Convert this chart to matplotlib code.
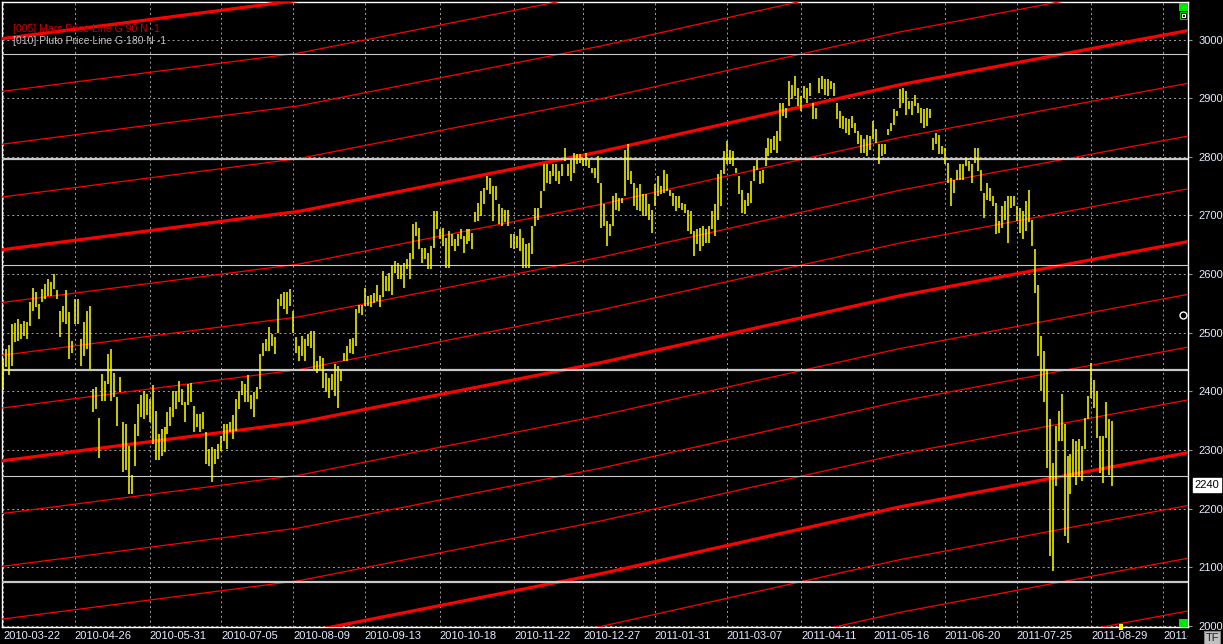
import matplotlib
matplotlib.use("Agg")
import matplotlib.pyplot as plt
from matplotlib.lines import Line2D
from matplotlib.patches import Rectangle
from matplotlib.transforms import Bbox
import numpy as np
import pandas as pd

W, H = 1223, 644
plt.rcParams["font.family"] = ["Liberation Sans", "DejaVu Sans"]

# daily sessions from 2010-03-22 (high / low)
highs = [
    2455, 2472, 2479, 2515, 2516, 2524, 2515, 2520, 2518, 2552, 2577, 2569, 2549, 2574, 2583, 2591, 2586, 2600,
    2572, 2537, 2546, 2572, 2535, 2486, 2557, 2557, 2489, 2518, 2537, 2546, 2404, 2407, 2354, 2430, 2418, 2464,
    2472, 2432, 2390, 2424, 2347, 2344, 2307, 2257, 2344, 2378, 2393, 2401, 2395, 2387, 2410, 2367, 2327, 2336,
    2339, 2364, 2373, 2401, 2401, 2418, 2404, 2381, 2412, 2415, 2375, 2361, 2361, 2364, 2330, 2302, 2305, 2302,
    2310, 2324, 2344, 2344, 2347, 2359, 2387, 2401, 2418, 2412, 2427, 2393, 2398, 2407, 2464, 2483, 2489, 2509,
    2498, 2492, 2557, 2566, 2569, 2569, 2574, 2537, 2492,
    2477, 2494, 2489, 2497, 2503, 2503, 2452, 2460, 2457, 2432, 2423, 2429, 2446, 2443, 2435, 2466, 2477, 2489,
    2491, 2540, 2548, 2548, 2577, 2562, 2565, 2568, 2582, 2565, 2605, 2597, 2602, 2616, 2622, 2619, 2616, 2619,
    2625, 2636, 2685, 2688, 2679, 2645, 2645, 2636, 2648, 2707, 2707, 2676, 2679, 2662, 2673, 2668, 2659, 2668,
    2676, 2665, 2676, 2676, 2670, 2705, 2722, 2741, 2747, 2767, 2764, 2750, 2750, 2719, 2713, 2710, 2710, 2668,
    2668, 2665, 2676, 2662, 2651, 2653, 2682, 2713, 2713, 2741, 2787, 2787, 2776, 2787, 2787, 2776, 2787, 2815,
    2787, 2795, 2807, 2804, 2804, 2798, 2807, 2795, 2781, 2781,
    2802, 2756, 2719, 2690, 2685, 2733, 2739, 2730, 2730, 2812, 2821, 2776, 2756, 2747, 2753, 2736, 2736, 2719,
    2710, 2753, 2767, 2750, 2778, 2770, 2744, 2739, 2733, 2733, 2722, 2719, 2710, 2707, 2673, 2676, 2679, 2682,
    2676, 2682, 2707, 2719, 2770, 2778, 2810, 2827, 2812, 2810, 2781, 2767, 2744, 2727, 2739, 2758, 2784, 2795,
    2776, 2778, 2815, 2832, 2830, 2835, 2844, 2892, 2892, 2884, 2929, 2923, 2937, 2918, 2903, 2920, 2918, 2926,
    2892, 2884, 2935, 2937, 2932, 2932, 2929, 2926, 2892, 2878, 2869, 2866, 2864, 2869, 2858, 2844, 2838, 2830,
    2838, 2835, 2861, 2847, 2821, 2821, 2821, 2847, 2858, 2881,
    2878, 2915, 2918, 2912, 2895, 2895, 2906, 2892, 2884, 2881, 2884, 2881, 2832, 2841, 2838, 2818, 2815, 2790,
    2764, 2761, 2778, 2787, 2787, 2798, 2793, 2787, 2815, 2815, 2778, 2739, 2756, 2747, 2733, 2722, 2690, 2716,
    2724, 2733, 2733, 2733, 2716, 2713, 2707, 2724, 2744, 2693, 2642, 2582, 2494, 2469, 2438, 2352, 2278, 2341,
    2366, 2395, 2344, 2290, 2293, 2318, 2315, 2318, 2307, 2355, 2392, 2449, 2420, 2401, 2324, 2324, 2381, 2352,
    2349,
]
lows = [
    2403, 2441, 2427, 2444, 2484, 2486, 2489, 2495, 2489, 2512, 2537, 2543, 2523, 2552, 2557, 2563, 2563, 2574,
    2557, 2492, 2518, 2515, 2455, 2466, 2515, 2515, 2444, 2461, 2472, 2438, 2364, 2370, 2286, 2384, 2384, 2412,
    2384, 2390, 2341, 2398, 2262, 2265, 2225, 2225, 2273, 2324, 2356, 2353, 2359, 2347, 2310, 2282, 2282, 2290,
    2296, 2327, 2341, 2356, 2370, 2381, 2376, 2347, 2376, 2381, 2330, 2339, 2330, 2336, 2276, 2273, 2245, 2276,
    2285, 2299, 2316, 2302, 2330, 2319, 2333, 2370, 2393, 2381, 2381, 2370, 2356, 2387, 2404, 2461, 2469, 2469,
    2478, 2464, 2500, 2546, 2540, 2532, 2546, 2500, 2466,
    2452, 2460, 2452, 2477, 2474, 2438, 2432, 2438, 2406, 2398, 2389, 2403, 2392, 2372, 2418, 2452, 2452, 2466,
    2463, 2477, 2534, 2531, 2545, 2545, 2543, 2551, 2554, 2543, 2560, 2571, 2571, 2565, 2602, 2591, 2591, 2577,
    2608, 2591, 2625, 2665, 2642, 2619, 2625, 2608, 2608, 2645, 2676, 2659, 2648, 2611, 2611, 2648, 2639, 2648,
    2659, 2636, 2651, 2656, 2642, 2688, 2690, 2699, 2719, 2744, 2736, 2690, 2727, 2685, 2682, 2688, 2682, 2645,
    2642, 2645, 2639, 2611, 2611, 2611, 2634, 2682, 2693, 2713, 2741, 2756, 2753, 2767, 2759, 2753, 2767, 2793,
    2767, 2759, 2773, 2787, 2790, 2784, 2784, 2781, 2773, 2764,
    2756, 2679, 2682, 2648, 2665, 2682, 2710, 2707, 2722, 2733, 2761, 2753, 2716, 2710, 2707, 2699, 2699, 2693,
    2670, 2716, 2733, 2736, 2739, 2741, 2733, 2716, 2707, 2713, 2710, 2704, 2673, 2668, 2631, 2651, 2639, 2648,
    2653, 2653, 2676, 2665, 2693, 2716, 2770, 2787, 2787, 2784, 2773, 2736, 2704, 2702, 2716, 2722, 2758, 2778,
    2753, 2756, 2784, 2801, 2807, 2812, 2807, 2827, 2869, 2866, 2886, 2898, 2903, 2886, 2878, 2901, 2892, 2903,
    2864, 2864, 2909, 2915, 2906, 2903, 2915, 2903, 2864, 2849, 2847, 2841, 2838, 2849, 2841, 2821, 2807, 2807,
    2801, 2812, 2830, 2824, 2787, 2801, 2804, 2838, 2844, 2855,
    2869, 2884, 2892, 2872, 2881, 2872, 2886, 2875, 2858, 2849, 2852, 2866, 2812, 2821, 2804, 2804, 2787, 2756,
    2716, 2739, 2761, 2761, 2761, 2784, 2776, 2756, 2790, 2776, 2741, 2696, 2727, 2724, 2716, 2668, 2670, 2679,
    2693, 2653, 2713, 2716, 2690, 2670, 2659, 2673, 2688, 2648, 2568, 2460, 2401, 2381, 2270, 2119, 2094, 2239,
    2315, 2315, 2153, 2142, 2224, 2253, 2241, 2253, 2247, 2301, 2352, 2389, 2372, 2321, 2261, 2244, 2321, 2258,
    2239,
]
last_price = 2240

holidays = ["2010-04-02", "2010-05-31", "2010-07-05", "2010-09-06", "2010-11-25", "2010-12-24",
            "2011-01-17", "2011-02-21", "2011-04-22", "2011-05-30", "2011-07-04", "2011-09-05"]
tick_dates = ["2010-03-22", "2010-04-26", "2010-05-31", "2010-07-05", "2010-08-09", "2010-09-13",
              "2010-10-18", "2010-11-22", "2010-12-27", "2011-01-31", "2011-03-07", "2011-04-11",
              "2011-05-16", "2011-06-20", "2011-07-25", "2011-08-29", "2011-10-03"]

# [005] Mars price line, G 90: base harmonic read at a few session indices
mars_idx = [-1, 99, 200, 300, 377, 397]
mars_base = [2281, 2347, 2449, 2563, 2637, 2656]
mars_step = 90
# [010] Pluto price line, G 180 (flat over this window)
pluto_base = 2075.5
pluto_step = 180

price_ticks = list(range(2000, 3001, 100))

sessions = pd.date_range("2010-03-22", "2011-12-30", freq=pd.offsets.CustomBusinessDay(holidays=holidays))
tick_pos = sessions.searchsorted(pd.to_datetime(tick_dates))
x = np.arange(len(highs))

fig = plt.figure(figsize=(W / 100, H / 100), dpi=100, facecolor="black")
ax = fig.add_axes([2 / W, 17 / H, 1186 / W, 625 / H], facecolor="black")
ax.set_xlim(-0.35, 396.3)
ax.set_ylim(1998, 3064)

# harmonics
for k in range(-8, 10):
    thick = k % 4 == 0
    ax.plot(mars_idx, np.array(mars_base) + k * mars_step, color="#ff0000",
            lw=2.3 if thick else 0.9, zorder=3, solid_capstyle="butt")
for k in range(6):
    ax.axhline(pluto_base + k * pluto_step, color="#c8c8c8", lw=1.6 if k % 2 == 0 else 0.8, zorder=4)

ax.vlines(x, lows, highs, colors="#ffff00", linewidth=1.1, zorder=6)

ax.set_axisbelow(True)
ax.set_xticks(tick_pos)
ax.set_yticks(price_ticks)
ax.grid(True, color="#a0a0a0", linestyle=(0, (2, 3)), linewidth=0.7)
for s in ax.spines.values():
    s.set_color("white")
    s.set_linewidth(1.0)
ax.yaxis.tick_right()
ax.tick_params(axis="y", direction="out", length=3, width=0.8, color="#909090", pad=4.5,
               labelsize=8, labelcolor="#e6ecff")
ax.tick_params(axis="x", length=0, labelbottom=False)

lab_clip = Bbox.from_extents(0, 0, 1188, H)
for pos, d in zip(tick_pos, tick_dates):
    t = ax.text(pos, -0.007, d, transform=ax.get_xaxis_transform(), ha="left", va="top",
                fontsize=8, color="#e6ecff", clip_on=True)
    t.set_clip_box(lab_clip)

ax.text(1.0055, last_price, str(last_price), transform=ax.get_yaxis_transform(), ha="left", va="center",
        fontsize=8, color="black", bbox=dict(boxstyle="square,pad=0.18", fc="white", ec="white"), zorder=10)

fig.text(13 / W, 1 - 29.5 / H, "[005] Mars Price Line G 90 N -1", color="#c80000", fontsize=7.5,
         ha="left", va="center")
fig.text(13 / W, 1 - 40.5 / H, "[010] Pluto Price Line G 180 N -1", color="#c0c0c0", fontsize=7.5,
         ha="left", va="center")


def px_rect(x0, y0, x1, y1, **kw):
    fig.add_artist(Rectangle((x0 / W, 1 - y1 / H), (x1 - x0) / W, (y1 - y0) / H,
                             transform=fig.transFigure, **kw))


px_rect(1179, 3, 1188, 11, fc="#00e600", ec="none")
px_rect(1180, 12, 1187, 19, fc="black", ec="#00c000", lw=0.8)
px_rect(1182, 14, 1185, 17, fc="none", ec="white", lw=0.8)
px_rect(1179, 619, 1188, 627, fc="#00e600", ec="none")
px_rect(1119, 624, 1123, 630, fc="#ffff00", ec="none")
fig.add_artist(Line2D([1183 / W], [1 - 315 / H], marker="o", ms=5, mfc="black", mec="white", mew=1,
                      transform=fig.transFigure))
fig.text(1212 / W, 1 - 638 / H, "TF", ha="center", va="center", fontsize=8, color="#202020",
         bbox=dict(boxstyle="square,pad=0.15", fc="#c0c0c0", ec="#808080", lw=0.8))

fig.savefig("out.png", dpi=100, facecolor="black")
